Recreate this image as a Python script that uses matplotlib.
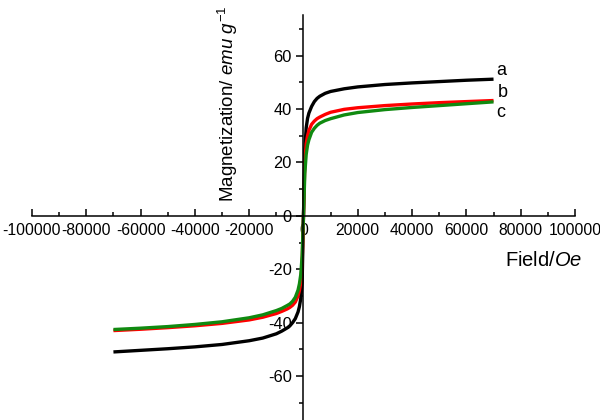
import matplotlib
matplotlib.use('Agg')
import matplotlib.pyplot as plt
from matplotlib.ticker import MultipleLocator

plt.rcParams['font.family'] = 'Liberation Sans'
plt.rcParams['mathtext.fontset'] = 'custom'
plt.rcParams['mathtext.rm'] = 'Liberation Sans'
plt.rcParams['mathtext.it'] = 'Liberation Sans:italic'
plt.rcParams['axes.unicode_minus'] = False

# поле, Oe
field = [-70000, -60000, -50000, -40000, -30000, -20000, -15000, -10000, -8000, -6000,
         -5000, -4000, -3000, -2000, -1500, -1000, -500, 0,
         500, 1000, 1500, 2000, 3000, 4000, 5000, 6000, 8000, 10000,
         15000, 20000, 30000, 40000, 50000, 60000, 70000]
# намагниченность, emu/g
mag_a = [-51.0, -50.4, -49.8, -49.1, -48.2, -46.8, -45.8, -44.2, -43.2, -42.0,
         -41.2, -40.0, -38.5, -36.0, -34.0, -31.0, -25.0, 0.0,
         25.0, 33.0, 36.5, 38.5, 41.0, 42.8, 44.0, 44.8, 45.9, 46.6,
         47.6, 48.3, 49.2, 49.8, 50.3, 50.8, 51.2]
mag_b = [-43.0, -42.5, -41.9, -41.2, -40.3, -39.0, -38.0, -36.6, -35.8, -34.9,
         -34.3, -33.5, -32.3, -30.0, -28.0, -25.0, -18.0, 0.0,
         20.0, 27.0, 30.0, 32.0, 34.3, 35.5, 36.4, 37.0, 38.0, 38.8,
         39.9, 40.5, 41.3, 41.9, 42.4, 42.8, 43.2]
mag_c = [-42.6, -42.1, -41.5, -40.7, -39.7, -38.2, -37.1, -35.5, -34.7, -33.6,
         -33.0, -32.0, -30.5, -27.8, -25.5, -22.0, -15.0, 0.0,
         16.0, 23.0, 26.5, 28.5, 31.3, 32.8, 33.9, 34.7, 35.7, 36.4,
         37.8, 38.7, 39.8, 40.6, 41.3, 42.0, 42.7]

fig = plt.figure(figsize=(6, 4.2), dpi=100)
ax = fig.add_axes([0.0533, 0.0, 0.905, 0.964])

for m, c in [(mag_a, 'black'), (mag_b, '#ff0000'), (mag_c, '#108a10')]:
    ax.plot(field, m, color=c, lw=2.4, solid_joinstyle='round', solid_capstyle='butt')

ax.set_xlim(-100000, 100000)
ax.set_ylim(-76.5, 75.2)

ax.spines['left'].set_position(('data', 0))
ax.spines['bottom'].set_position(('data', 0))
ax.spines['right'].set_visible(False)
ax.spines['top'].set_visible(False)
for s in ['left', 'bottom']:
    ax.spines[s].set_linewidth(1.1)

ax.xaxis.set_major_locator(MultipleLocator(20000))
ax.xaxis.set_minor_locator(MultipleLocator(10000))
ax.yaxis.set_major_locator(MultipleLocator(20))
ax.yaxis.set_minor_locator(MultipleLocator(10))
ax.tick_params(axis='x', which='both', direction='in', labelsize=11.3, width=1.1, pad=5)
ax.tick_params(axis='y', which='both', direction='out', labelsize=11.8, width=1.1)
ax.tick_params(which='major', length=5)
ax.tick_params(which='minor', length=3)

ax.text(71000, 54.6, 'a', fontsize=13, ha='left', va='center')
ax.text(71500, 46.3, 'b', fontsize=13, ha='left', va='center')
ax.text(71000, 38.8, 'c', fontsize=13, ha='left', va='center')

ax.text(-28000, 42.0, r'Magnetization/ $\mathit{emu\ g^{-1}}$', fontsize=13.5,
        rotation=90, ha='center', va='center')
ax.text(88300, -16.6, r'Field/$\mathit{Oe}$', fontsize=14.5, ha='center', va='center')

fig.savefig('out.png', dpi=100)
